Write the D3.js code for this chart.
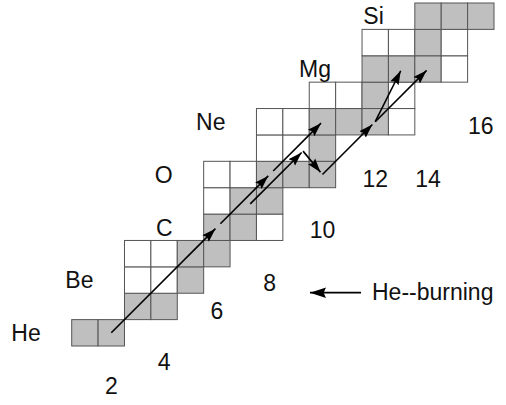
<!DOCTYPE html>
<html lang="en">
<head>
<meta charset="utf-8">
<script src="https://cdn.jsdelivr.net/npm/d3@7"></script>
<style>
  body { margin: 0; background: #fff; }
  svg { display: block; }
  text { font-family: "Liberation Sans", Arial, Helvetica, sans-serif; font-size: 23px; fill: #111; }
  .cell { stroke: #555; stroke-width: 1; }
</style>
</head>
<body>
<div id="chart"></div>
<script>
// one row per element: proton number, first/last neutron number drawn, stable isotopes
var elements = ["He", "Li", "Be", "B", "C", "N", "O", "F", "Ne", "Na", "Mg", "Al", "Si"];
var protons  = [2, 3, 4, 5, 6, 7, 8, 9, 10, 11, 12, 13, 14];
var firstN   = [1, 3, 3, 3, 6, 6, 6, 8, 8, 10, 12, 12, 14];
var lastN    = [2, 4, 5, 6, 8, 8, 10, 10, 13, 13, 15, 15, 16];
var stableN  = [[1, 2], [3, 4], [5], [5, 6], [6, 7], [7, 8], [8, 9, 10], [10], [10, 11, 12], [12], [12, 13, 14], [14], [14, 15, 16]];
var labelled = ["He", "Be", "C", "O", "Ne", "Mg", "Si"];

// neutron number labels and the proton row they sit on
var nTicks = [2, 4, 6, 8, 10, 12, 14, 16];
var nTickZ = [0, 0.9, 2.85, 3.9, 5.9, 7.85, 7.85, 9.85];

// reaction chains as [N, Z] pairs
var chainA = [[2, 2], [6, 6], [8, 8], [10, 10]];             // 4He -> 12C -> 16O -> 20Ne
var chainB = [[7, 7], [9, 9], [10, 8], [12, 10], [14, 12]];  // 14N -> 18F -> 18O -> 22Ne -> 26Mg
var branch = [[12, 10], [13, 12]];                           // 22Ne(a,n)25Mg

var width = 506, height = 405;

var svg = d3.select("#chart").append("svg")
    .attr("width", width)
    .attr("height", height);

var x = d3.scaleLinear().domain([0.5, 16.5]).range([71.7, 494]);
var y = d3.scaleLinear().domain([1.5, 14.5]).range([346, 3]);
var cw = x(1) - x(0), ch = y(0) - y(1);

var defs = svg.append("defs");
defs.append("marker")
    .attr("id", "head")
    .attr("viewBox", "0 -5 10 10")
    .attr("refX", 10).attr("refY", 0)
    .attr("markerUnits", "userSpaceOnUse")
    .attr("markerWidth", 14).attr("markerHeight", 14)
    .attr("orient", "auto")
  .append("path")
    .attr("d", "M0,-3.3L10,0L0,3.3L1.5,0Z")
    .attr("fill", "#000");
defs.append("marker")
    .attr("id", "head2")
    .attr("viewBox", "0 -5 10 10")
    .attr("refX", 10).attr("refY", 0)
    .attr("markerUnits", "userSpaceOnUse")
    .attr("markerWidth", 16).attr("markerHeight", 16)
    .attr("orient", "auto")
  .append("path")
    .attr("d", "M0,-3.3L10,0L0,3.3L1.5,0Z")
    .attr("fill", "#000");

// cells
var cells = [];
elements.forEach(function(el, i) {
  for (var n = firstN[i]; n <= lastN[i]; n++) {
    cells.push({ z: protons[i], n: n, stable: stableN[i].indexOf(n) >= 0 });
  }
});

svg.append("g").selectAll("rect")
    .data(cells)
  .enter().append("rect")
    .attr("class", "cell")
    .attr("x", function(d) { return x(d.n - 0.5); })
    .attr("y", function(d) { return y(d.z + 0.5); })
    .attr("width", cw)
    .attr("height", ch)
    .attr("fill", function(d) { return d.stable ? "#bfbfbf" : "#fff"; });

// element names, right aligned a bit left of the first cell
svg.append("g").selectAll("text")
    .data(elements.map(function(el, i) { return { el: el, z: protons[i], n0: firstN[i] }; })
      .filter(function(d) { return labelled.indexOf(d.el) >= 0; }))
  .enter().append("text")
    .attr("text-anchor", "end")
    .attr("x", function(d) { return x(d.n0 - 0.5) - 31; })
    .attr("y", function(d) { return y(d.z); })
    .attr("dy", "0.36em")
    .text(function(d) { return d.el; });

// neutron numbers
svg.append("g").selectAll("text")
    .data(nTicks)
  .enter().append("text")
    .attr("text-anchor", "middle")
    .attr("x", function(d) { return x(d); })
    .attr("y", function(d, i) { return y(nTickZ[i]); })
    .attr("dy", "0.36em")
    .text(function(d) { return d; });

// arrows
function pt(p, shift) {
  shift = shift || [0, 0];
  return [x(p[0]) + shift[0], y(p[1]) + shift[1]];
}
function arrow(a, b, gapStart, gapEnd) {
  var dx = b[0] - a[0], dy = b[1] - a[1];
  var len = Math.sqrt(dx * dx + dy * dy);
  var ux = dx / len, uy = dy / len;
  svg.append("line")
      .attr("x1", a[0] + ux * gapStart).attr("y1", a[1] + uy * gapStart)
      .attr("x2", b[0] - ux * gapEnd).attr("y2", b[1] - uy * gapEnd)
      .attr("stroke", "#000")
      .attr("stroke-width", 1.6)
      .attr("marker-end", "url(#head)");
}

for (var i = 1; i < chainA.length; i++) {
  arrow(pt(chainA[i - 1]), pt(chainA[i]), i === 1 ? 0 : 5, 2);
}

var sh = [7, 3];
arrow(pt(chainB[0], sh), pt(chainB[1], sh), 0, 2);
arrow(pt(chainB[1], sh), pt(chainB[2]), 0, 3);
arrow(pt(chainB[2]), pt(chainB[3]), 0, 4);
arrow(pt(chainB[3]), pt(chainB[4]), 0, 2);
arrow(pt(branch[0]), pt(branch[1]), 0, 2);

// legend
svg.append("line")
    .attr("x1", 361).attr("y1", 292.7)
    .attr("x2", 310).attr("y2", 292.7)
    .attr("stroke", "#000")
    .attr("stroke-width", 1.7)
    .attr("marker-end", "url(#head2)");
svg.append("text")
    .attr("x", 372)
    .attr("y", 299.5)
    .text("He--burning");
</script>
</body>
</html>
